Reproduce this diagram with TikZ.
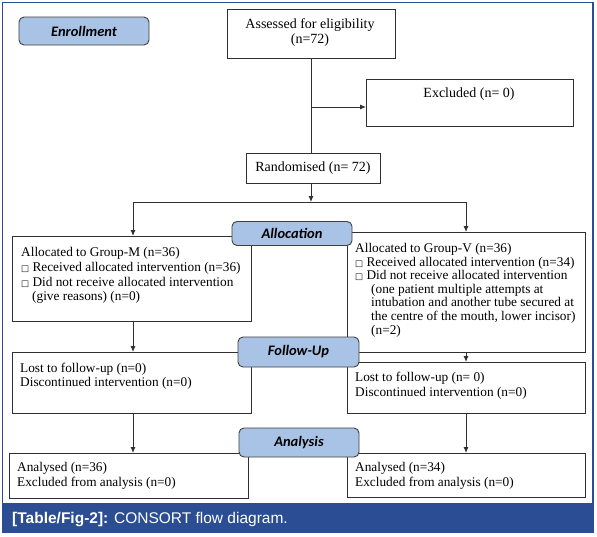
\documentclass[tikz,border=0pt]{standalone}
\usepackage{fontspec}
\setmainfont{Liberation Serif}
\newfontfamily\labfont{Carlito}
\newfontfamily\capfont{Liberation Sans}
\newfontfamily\symfont{DejaVu Sans}
\usetikzlibrary{arrows.meta}
\definecolor{framecol}{HTML}{2A4D93}
\definecolor{labfill}{HTML}{A9C3E6}
\definecolor{linecol}{HTML}{303030}
\newcommand{\bxg}{{\symfont\fontsize{8.5}{8}\selectfont □}}
\begin{document}
\begin{tikzpicture}[x=1pt,y=-1pt,
 box/.style={draw=linecol, line width=0.9pt, inner sep=0pt, outer sep=0pt},
 lab/.style={draw=black!75, line width=0.9pt, fill=labfill, rounded corners=5pt, inner sep=0pt, font=\labfont\bfseries\itshape\fontsize{14.5}{16}\selectfont},
 txt/.style={inner sep=0pt, align=left, anchor=north west, font=\fontsize{13.3}{14.8}\selectfont},
 ctxt/.style={inner sep=0pt, align=center, font=\fontsize{14}{15}\selectfont},
 arr/.style={draw=linecol, line width=0.9pt, -{Latex[length=6pt,width=5pt]}},
 ln/.style={draw=linecol, line width=0.9pt}]

\useasboundingbox (0,0) rectangle (597,536);
\fill[white] (0,0) rectangle (597,536);
\draw[framecol, line width=1.5pt] (2.5,2.5) rectangle (593,510);
\fill[framecol] (1.5,503) rectangle (593.8,533);

% boxes
\node[box, minimum width=168pt, minimum height=49pt] (assessed) at (311,33.5) {};
\node[box, minimum width=207pt, minimum height=47pt] (excluded) at (469.5,102.5) {};
\node[box, minimum width=134pt, minimum height=30pt] (randomised) at (313,168) {};
\node[box, minimum width=239pt, minimum height=85pt] (groupM) at (131.5,278.5) {};
\node[box, minimum width=238pt, minimum height=120pt] (groupV) at (466,292) {};
\node[box, minimum width=239pt, minimum height=61pt] (lostL) at (131.5,382.5) {};
\node[box, minimum width=238pt, minimum height=51pt] (lostR) at (466,387.5) {};
\node[box, minimum width=239pt, minimum height=45pt] (anaL) at (128.5,475.5) {};
\node[box, minimum width=238pt, minimum height=44pt] (anaR) at (466,475) {};

% texts
\node[ctxt] (tassessed) at (310,32.5) {Assessed for eligibility\\(n=72)};
\node[ctxt] (texcluded) at (469,94) {Excluded (n= 0)};
\node[ctxt] (trandomised) at (313,168) {Randomised (n= 72)};
\node[txt] (tgroupM) at (21,247) {Allocated to Group-M (n=36)\\
\bxg\ Received allocated intervention (n=36)\\
\bxg\ Did not receive allocated intervention\\
\hspace*{11pt}(give reasons) (n=0)};
\node[txt, font=\fontsize{13.3}{13.6}\selectfont] (tgroupV) at (355,243) {Allocated to Group-V (n=36)\\
\bxg\ Received allocated intervention (n=34)\\
\bxg\ Did not receive allocated intervention\\
\hspace*{16pt}(one patient multiple attempts at\\
\hspace*{16pt}intubation and another tube secured at\\
\hspace*{16pt}the centre of the mouth, lower incisor)\\
\hspace*{16pt}(n=2)};
\node[txt] (tlostL) at (20,362.5) {Lost to follow-up (n=0)\\Discontinued intervention (n=0)};
\node[txt] (tlostR) at (355,372) {Lost to follow-up (n= 0)\\Discontinued intervention (n=0)};
\node[txt] (tanaL) at (17,462.5) {Analysed (n=36)\\Excluded from analysis (n=0)};
\node[txt] (tanaR) at (355,462.5) {Analysed (n=34)\\Excluded from analysis (n=0)};

% connectors
\coordinate (exc) at (311,107);
\coordinate (split) at (311,202);
\coordinate (sL) at (133,202);
\coordinate (sR) at (466,202);
\draw[ln] (assessed.south) -- (assessed.south |- randomised.north);
\draw[arr] (exc) -- (excluded.west |- exc);
\draw[arr] (assessed.south |- randomised.south) -- (split);
\draw[ln] (sL) -- (sR);
\draw[arr] (sL) -- (sL |- groupM.north);
\draw[arr] (sR) -- (groupV.north);
\draw[arr] (sL |- groupM.south) -- (sL |- lostL.north);
\draw[arr] (groupV.south) -- (lostR.north);
\draw[arr] (sL |- lostL.south) -- (sL |- anaL.north);
\draw[arr] (lostR.south) -- (anaR.north);

% labels
\node[lab, minimum width=130pt, minimum height=28pt] (enroll) at (84,31) {Enrollment};
\node[lab, minimum width=120pt, minimum height=24pt] (alloc) at (292,233.5) {Allocation};
\node[lab, minimum width=121pt, minimum height=30pt] (follow) at (298.5,352) {Follow-Up};
\node[lab, minimum width=120pt, minimum height=29pt] (analysis) at (299,442.5) {Analysis};

% caption
\node[anchor=west, inner sep=0pt, text=white, font=\capfont\fontsize{15.5}{18}\selectfont] (caption) at (12,520) {\textbf{[Table/Fig-2]:} CONSORT flow diagram.};
\end{tikzpicture}
\end{document}
